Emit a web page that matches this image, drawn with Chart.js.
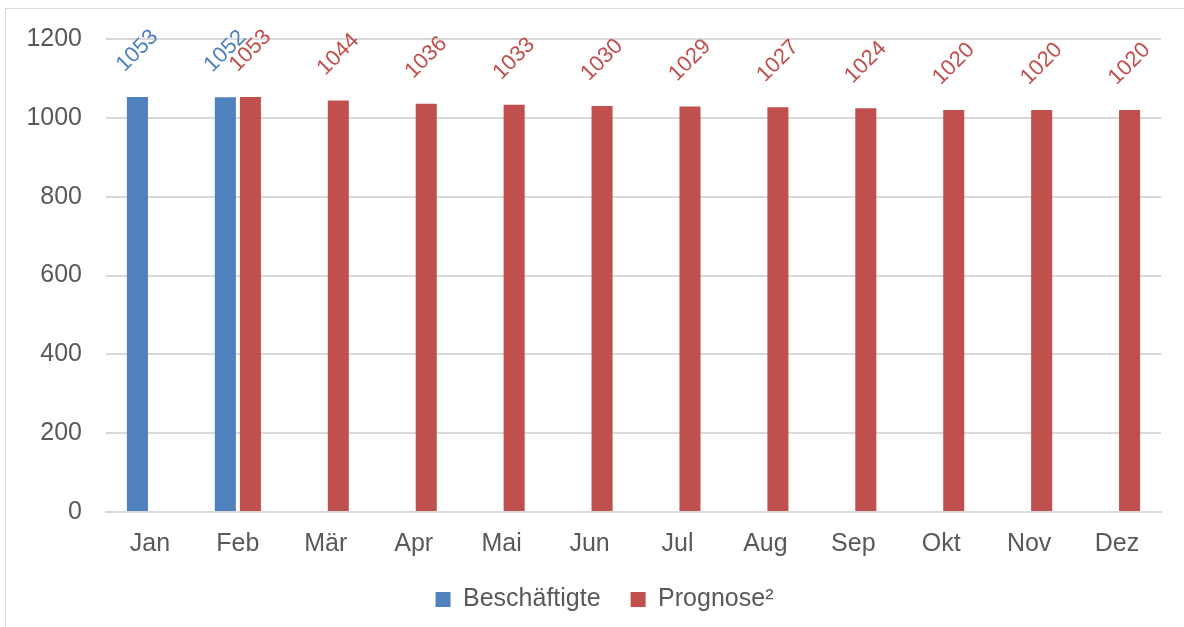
<!DOCTYPE html>
<html>
<head>
<meta charset="utf-8">
<script src="https://cdn.jsdelivr.net/npm/chart.js@4"></script>
<style>
  html, body { margin: 0; padding: 0; background: #fff; overflow: hidden; }
  #frame { position: absolute; left: 5px; top: 8px; width: 1300px; height: 700px; border: 1px solid #d9d9d9; }
  #wrap { position: absolute; left: 0; top: 0; width: 1184px; height: 627px; }
</style>
</head>
<body>
<div id="frame"></div>
<div id="wrap"><canvas id="chart"></canvas></div>
<script>
// monthly values
const months = ['Jan', 'Feb', 'Mär', 'Apr', 'Mai', 'Jun', 'Jul', 'Aug', 'Sep', 'Okt', 'Nov', 'Dez'];
const beschaeftigte = [1053, 1052, null, null, null, null, null, null, null, null, null, null];
const prognose = [null, 1053, 1044, 1036, 1033, 1030, 1029, 1027, 1024, 1020, 1020, 1020];
const yTicks = [0, 200, 400, 600, 800, 1000, 1200];

const fontFamily = '"Liberation Sans", Arial, sans-serif';
const textColor = '#595959';

// rotated value labels above each bar
const barLabels = {
    id: 'barLabels',
    afterDatasetsDraw(chart) {
        const ctx = chart.ctx;
        chart.data.datasets.forEach((ds, i) => {
            const meta = chart.getDatasetMeta(i);
            meta.data.forEach((bar, j) => {
                const v = ds.data[j];
                if (v === null || v === undefined) return;
                ctx.save();
                ctx.translate(bar.x, bar.y - 46);
                ctx.rotate(-Math.PI / 4);
                ctx.font = '22px ' + fontFamily;
                ctx.fillStyle = ds.backgroundColor;
                ctx.textAlign = 'center';
                ctx.textBaseline = 'middle';
                ctx.fillText(String(v), 0, 0);
                ctx.restore();
            });
        });
    }
};

// legend sits a bit right of centre in the original
const legendShift = {
    id: 'legendShift',
    afterLayout(chart) {
        const lg = chart.legend;
        if (!lg) return;
        lg.left += 24;
        lg.right += 24;
        if (lg.legendHitBoxes) lg.legendHitBoxes.forEach(b => { b.left += 24; });
    }
};

new Chart(document.getElementById('chart'), {
    type: 'bar',
    data: {
        labels: months,
        datasets: [
            { label: 'Beschäftigte', data: beschaeftigte, backgroundColor: '#4F81BD' },
            { label: 'Prognose²', data: prognose, backgroundColor: '#C0504D' }
        ]
    },
    options: {
        responsive: true,
        maintainAspectRatio: false,
        animation: false,
        categoryPercentage: 0.57,
        barPercentage: 0.84,
        layout: { padding: { top: 38, right: 23, bottom: 5, left: 0 } },
        plugins: {
            tooltip: { enabled: false },
            legend: {
                position: 'bottom',
                labels: {
                    boxWidth: 15,
                    boxHeight: 15,
                    padding: 30,
                    color: textColor,
                    font: { family: fontFamily, size: 25 }
                }
            }
        },
        scales: {
            x: {
                grid: { display: false, drawTicks: false },
                border: { display: true, color: '#d9d9d9', width: 2 },
                ticks: { color: textColor, padding: 17, font: { family: fontFamily, size: 25 } },
                afterFit(scale) { scale.height = 45; }
            },
            y: {
                min: 0,
                max: 1200,
                afterBuildTicks(scale) { scale.ticks = yTicks.map(v => ({ value: v })); },
                grid: { color: '#d9d9d9', lineWidth: 2, drawTicks: false },
                border: { display: false },
                ticks: {
                    color: textColor,
                    padding: 24,
                    font: { family: fontFamily, size: 25 },
                    callback: v => String(v)
                },
                afterFit(scale) { scale.width = 106; }
            }
        }
    },
    plugins: [barLabels, legendShift]
});
</script>
</body>
</html>
